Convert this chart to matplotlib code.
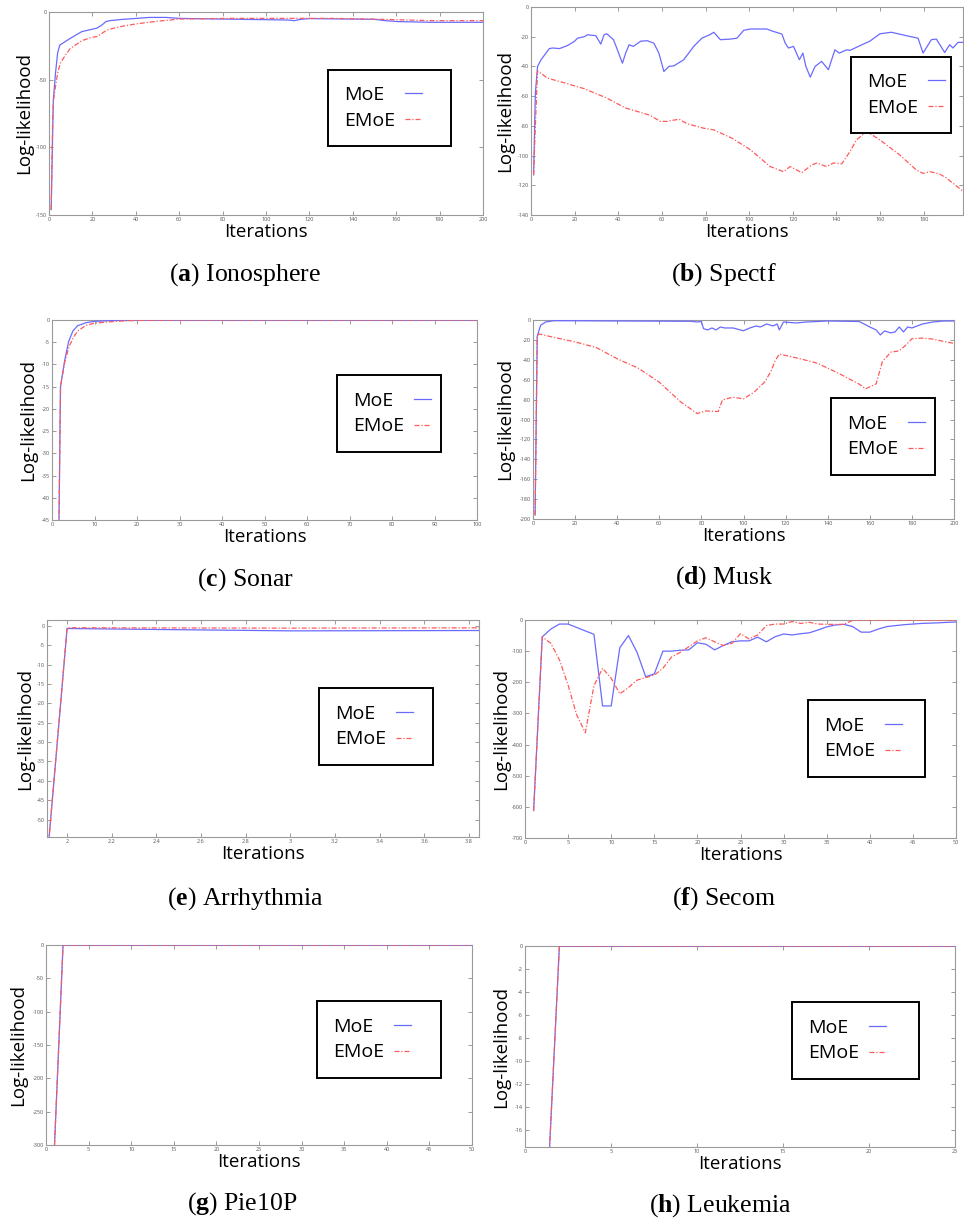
import matplotlib
matplotlib.use('Agg')
import matplotlib.pyplot as plt
from matplotlib.ticker import FuncFormatter

plt.rcParams['font.family'] = ['Open Sans', 'DejaVu Sans']
plt.rcParams['axes.unicode_minus'] = False
plt.rcParams['mathtext.fontset'] = 'custom'
plt.rcParams['mathtext.rm'] = 'Liberation Serif'
plt.rcParams['mathtext.bf'] = 'Liberation Serif:bold'

# ---------------- data ----------------
iono_moe_x = [1, 2, 3, 4, 5, 9.8, 15.1, 19.7, 22, 24.4, 26.3, 28, 34.2, 38.8, 46.4,
              54, 60, 66, 110, 113, 116, 120, 150, 155, 161, 176, 200]
iono_moe = [-146, -65, -45, -30, -24.4, -19.5, -14.5, -12.8, -12, -9.6, -7, -6.4, -5.4,
            -4.9, -4, -4, -4.7, -4.9, -5.9, -6.4, -5.4, -4.9, -5.4, -6.4, -7.1, -7.6, -7.6]
iono_emoe_x = [1, 1.7, 2.1, 3, 4, 5.2, 7.5, 9.8, 15.1, 19.7, 22, 24.4, 26.7, 32.8, 39.7,
               49.5, 60.2, 84.6, 130, 153, 176, 200]
iono_emoe = [-146, -77, -65, -55, -45, -38, -32, -27, -21.2, -18.7, -18.2, -15.8, -13.3,
             -10.8, -8.9, -6.9, -5.2, -4.7, -4.7, -5.4, -6.4, -6.4]

spectf_moe_x = [1.2, 2, 3, 4.6, 8.4, 9.9, 13, 16.7, 20, 21.3, 24.4, 25.9, 29.7, 32, 33.5,
                34.7, 37.8, 39.6, 41.9, 43.4, 45, 46.9, 50.3, 53.3, 56.3, 58.6, 60.9, 63.2,
                65.5, 70, 74.6, 78.4, 81.9, 83.8, 86.8, 91.4, 94.4, 97.5, 100.5, 108, 111,
                115, 116.5, 118, 120.3, 123, 124.6, 126, 128, 130.2, 133.2, 136.3, 139.3,
                141.3, 144.7, 146.2, 150.8, 155.3, 160, 165.2, 172, 177.4, 179.7, 183.5,
                185.8, 189.6, 191.9, 193.4, 195.7, 198]
spectf_moe = [-113, -58, -40, -35.5, -28, -27.6, -28, -26, -23, -21, -20, -18.7, -19.3, -25,
              -18.7, -18, -22, -28.8, -37.8, -31, -25.4, -26.5, -23, -22.7, -24.3, -31,
              -43.4, -40, -39.6, -35.5, -26.5, -20.9, -18.7, -17, -22, -21.6, -21, -15.7,
              -14.8, -14.8, -16.4, -18.2, -24.3, -27.6, -26.5, -35.5, -31, -40, -47.2, -40,
              -36.6, -42.2, -28.8, -31, -28.8, -29.2, -26, -23, -18, -17, -19.3, -21, -31,
              -22, -21.6, -30.6, -25.4, -27.6, -23.8, -23.8]
spectf_emoe_x = [1.2, 2, 3, 4.9, 7.6, 15.2, 24.4, 34.3, 43.4, 54, 59.4, 62.4, 67.8, 71.6,
                 79.2, 83.8, 92.1, 100.5, 109.6, 115.7, 118.8, 124.1, 128.7, 131, 135.5,
                 138.6, 142.4, 146.2, 149.2, 153.8, 159.9, 169, 176.6, 179.7, 182.7, 187.3,
                 190.3, 198]
spectf_emoe = [-113, -80, -43, -45, -47.9, -51, -55, -61, -68, -72.6, -77, -77, -75.5, -78.6,
               -81.6, -82.7, -88.3, -96, -107.4, -110.8, -107.4, -111.5, -106.3, -105,
               -107.4, -105, -105.6, -97.3, -89.4, -83.8, -89.4, -99.6, -109.7, -112, -110.8,
               -112.4, -115, -124]

sonar_moe_x = [1, 2, 3, 3.9, 4.9, 6, 8, 10, 15, 20, 30, 100]
sonar_moe = [-100, -15, -9, -4.9, -2.5, -1.3, -0.6, -0.3, -0.1, 0, 0, 0]
sonar_emoe_x = [1, 2, 3, 4, 5, 6, 8, 10, 15, 20, 30, 100]
sonar_emoe = [-100, -15, -9.5, -6, -4, -2.5, -1.2, -0.7, -0.3, -0.1, 0, 0]

musk_moe_x = [1, 2, 3.6, 6, 10, 75, 78, 80, 81, 83, 85, 87, 89, 91, 95, 100, 103, 106, 108,
              111, 114, 116, 117, 119, 125, 130, 140, 155, 160, 163, 165, 167, 170, 172,
              174, 176, 178, 180, 185, 190, 195, 200]
musk_moe = [-196, -16.5, -5.4, -2, -0.7, -1.3, -2, -1.5, -8.7, -10, -8, -10, -7, -8, -8,
            -10.8, -8, -6, -7, -4, -6, -4, -10, -2, -3, -2, -1, -1.5, -7, -10, -15, -11,
            -13, -12, -7, -12, -7, -8, -4, -2, -1, -1]
musk_emoe_x = [1, 2, 2.8, 10, 20, 30, 40, 50, 60, 70, 78, 82, 88, 90, 95, 100, 105, 110,
               113, 115, 117, 122, 127, 135, 145, 155, 158, 163, 166, 170, 174, 177, 180,
               185, 190, 195, 200]
musk_emoe = [-196, -18, -14, -17.5, -22, -27.6, -39, -48.4, -62.5, -82, -94, -91.4, -92,
             -80.3, -77.6, -79.3, -72.6, -62.5, -51.8, -41, -34.3, -36.6, -39, -43.4,
             -53.4, -64.5, -69.2, -64.2, -41.7, -32.3, -31, -25.5, -18.8, -18.2, -19.2,
             -21.5, -23.5]

arr_x = [1, 2, 3, 4]
arr_moe = [-670, -0.7, -1.3, -1.2]
arr_emoe = [-670, -0.5, -0.6, -0.5]

secom_x = list(range(1, 51))
secom_moe = [-612, -54, -29, -13, -13, -24, -35, -46, -276, -276,
             -89, -50, -104, -182, -173, -100, -100, -97, -96, -73,
             -78, -96, -82, -70, -67, -67, -55, -70, -54, -45,
             -48, -44, -41, -32, -22, -16, -14, -21, -39, -39,
             -29, -21, -18, -15, -13, -11, -10, -9, -7.5, -6.4]
secom_emoe = [-612, -54, -75, -128, -209, -305, -362, -211, -155, -187,
              -237, -217, -193, -185, -177, -155, -119, -104, -86, -67,
              -57, -70, -82, -75, -44, -61, -48, -18, -13, -13,
              -5, -11, -7.5, -13, -14, -14, -14, -1, -0.5, -0.5,
              -0.5, -0.5, -0.5, -0.5, -0.5, -0.5, -0.5, -0.5, -0.5, -0.5]

pie_x = [1, 2, 50]
pie_moe = [-300, 0, 0]
pie_emoe = [-300, 0, 0]

leuk_x = [1, 2, 25]
leuk_moe = [-30.7, 0, 0]
leuk_emoe = [-30.7, 0, 0]

# ---------------- drawing ----------------
W, H = 964, 1220
BLUE = '#6a6aff'
RED = '#ff5a5a'

fig = plt.figure(figsize=(W / 100, H / 100), dpi=100)
legends = []


def draw_panel(box, moe, emoe, xlim, ylim, xticks, yticks, leg_box, ylab_gap,
               caption, cap_xy):
    l, t, r, b = box
    ax = fig.add_axes([l / W, 1 - b / H, (r - l) / W, (b - t) / H])
    ax.plot(moe[0], moe[1], color=BLUE, lw=0.9, label='MoE', zorder=3)
    ax.plot(emoe[0], emoe[1], color=RED, lw=0.9, ls=(0, (4, 1.5, 1, 1.5)),
            label='EMoE', zorder=3.1)
    ax.set_xlim(xlim)
    ax.set_ylim(ylim)
    ax.set_xticks(xticks)
    ax.set_yticks(yticks)
    fmt = FuncFormatter(lambda v, p: '%g' % v)
    ax.xaxis.set_major_formatter(fmt)
    ax.yaxis.set_major_formatter(fmt)
    for s in ax.spines.values():
        s.set_color('#9a9a9a')
        s.set_linewidth(0.8)
    ax.tick_params(direction='in', top=True, right=True, length=3, width=0.6,
                   color='#8a8a8a', labelsize=4, labelcolor='#555555', pad=1.5)
    ax.set_xlabel('Iterations', fontsize=13.5)
    ax.set_ylabel('Log-likelihood', fontsize=13.5)
    ax.xaxis.set_label_coords(0.5, -8 / (b - t))
    ax.yaxis.set_label_coords(-ylab_gap / (r - l), 0.5)

    lx0, ly0, lx1, ly1 = leg_box
    leg = ax.legend(loc='center left',
                    bbox_to_anchor=(lx0 / W, 1 - ly1 / H, (lx1 - lx0) / W, (ly1 - ly0) / H),
                    bbox_transform=fig.transFigure, mode='expand', borderaxespad=0,
                    markerfirst=False, fancybox=False, framealpha=1, edgecolor='black',
                    fontsize=14, borderpad=0.85, labelspacing=0.4, handlelength=0.85,
                    handletextpad=0.5)
    leg.get_frame().set_linewidth(1.4)
    legends.append(leg)

    fig.text(cap_xy[0] / W, 1 - cap_xy[1] / H, caption, ha='center', va='center',
             fontsize=18.5, family='Liberation Serif')
    return ax


draw_panel((49, 12, 483, 215), (iono_moe_x, iono_moe), (iono_emoe_x, iono_emoe),
           (0, 200), (-150, 0), range(0, 201, 20), [0, -50, -100, -150],
           (328, 69, 451, 147), 16, r'($\mathbf{a}$) Ionosphere', (245, 275))

draw_panel((531, 7, 963, 215), (spectf_moe_x, spectf_moe), (spectf_emoe_x, spectf_emoe),
           (0, 198), (-140, 0), range(0, 181, 20), range(0, -141, -20),
           (851, 63, 951, 127), 17, r'($\mathbf{b}$) Spectf', (724, 275))

draw_panel((52, 320, 477, 520), (sonar_moe_x, sonar_moe), (sonar_emoe_x, sonar_emoe),
           (0, 100), (-45, 0), range(0, 101, 10), range(0, -46, -5),
           (337, 380, 441, 447), 15, r'($\mathbf{c}$) Sonar', (245, 580))

draw_panel((533, 320, 954, 519), (musk_moe_x, musk_moe), (musk_emoe_x, musk_emoe),
           (0, 200), (-200, 0), range(0, 201, 20), range(0, -201, -20),
           (831, 403, 935, 470), 19, r'($\mathbf{d}$) Musk', (724, 578))

draw_panel((47, 620, 479, 837), (arr_x, arr_moe), (arr_x, arr_emoe),
           (1.91, 3.845), (-54.5, 1.5), [2, 2.2, 2.4, 2.6, 2.8, 3, 3.2, 3.4, 3.6, 3.8],
           range(0, -51, -5),
           (319, 694, 433, 759), 13, r'($\mathbf{e}$) Arrhythmia', (245, 899))

draw_panel((525, 620, 956, 838), (secom_x, secom_moe), (secom_x, secom_emoe),
           (0, 50), (-700, 0), range(0, 51, 5), range(0, -701, -100),
           (808, 703, 925, 774), 15, r'($\mathbf{f}$) Secom', (724, 899))

draw_panel((46, 945, 472, 1145), (pie_x, pie_moe), (pie_x, pie_emoe),
           (0, 50), (-300, 0), range(0, 51, 5), range(0, -301, -50),
           (317, 1000, 441, 1079), 19, r'($\mathbf{g}$) Pie10P', (242, 1204))

draw_panel((525, 946, 955, 1147), (leuk_x, leuk_moe), (leuk_x, leuk_emoe),
           (0, 25), (-17.5, 0), range(0, 26, 5), range(0, -17, -2),
           (792, 1007, 919, 1074), 15, r'($\mathbf{h}$) Leukemia', (720, 1206))

# legend labels left aligned, handles lined up after the longest label
fig.canvas.draw()
renderer = fig.canvas.get_renderer()
for leg in legends:
    for col in leg._legend_handle_box.get_children():
        items = col.get_children()
        wmax = max(it.get_bbox(renderer).width for it in items)
        for it in items:
            it.width = wmax
            it.mode = 'expand'
        col.align = 'left'

fig.savefig('out.png', dpi=100)
